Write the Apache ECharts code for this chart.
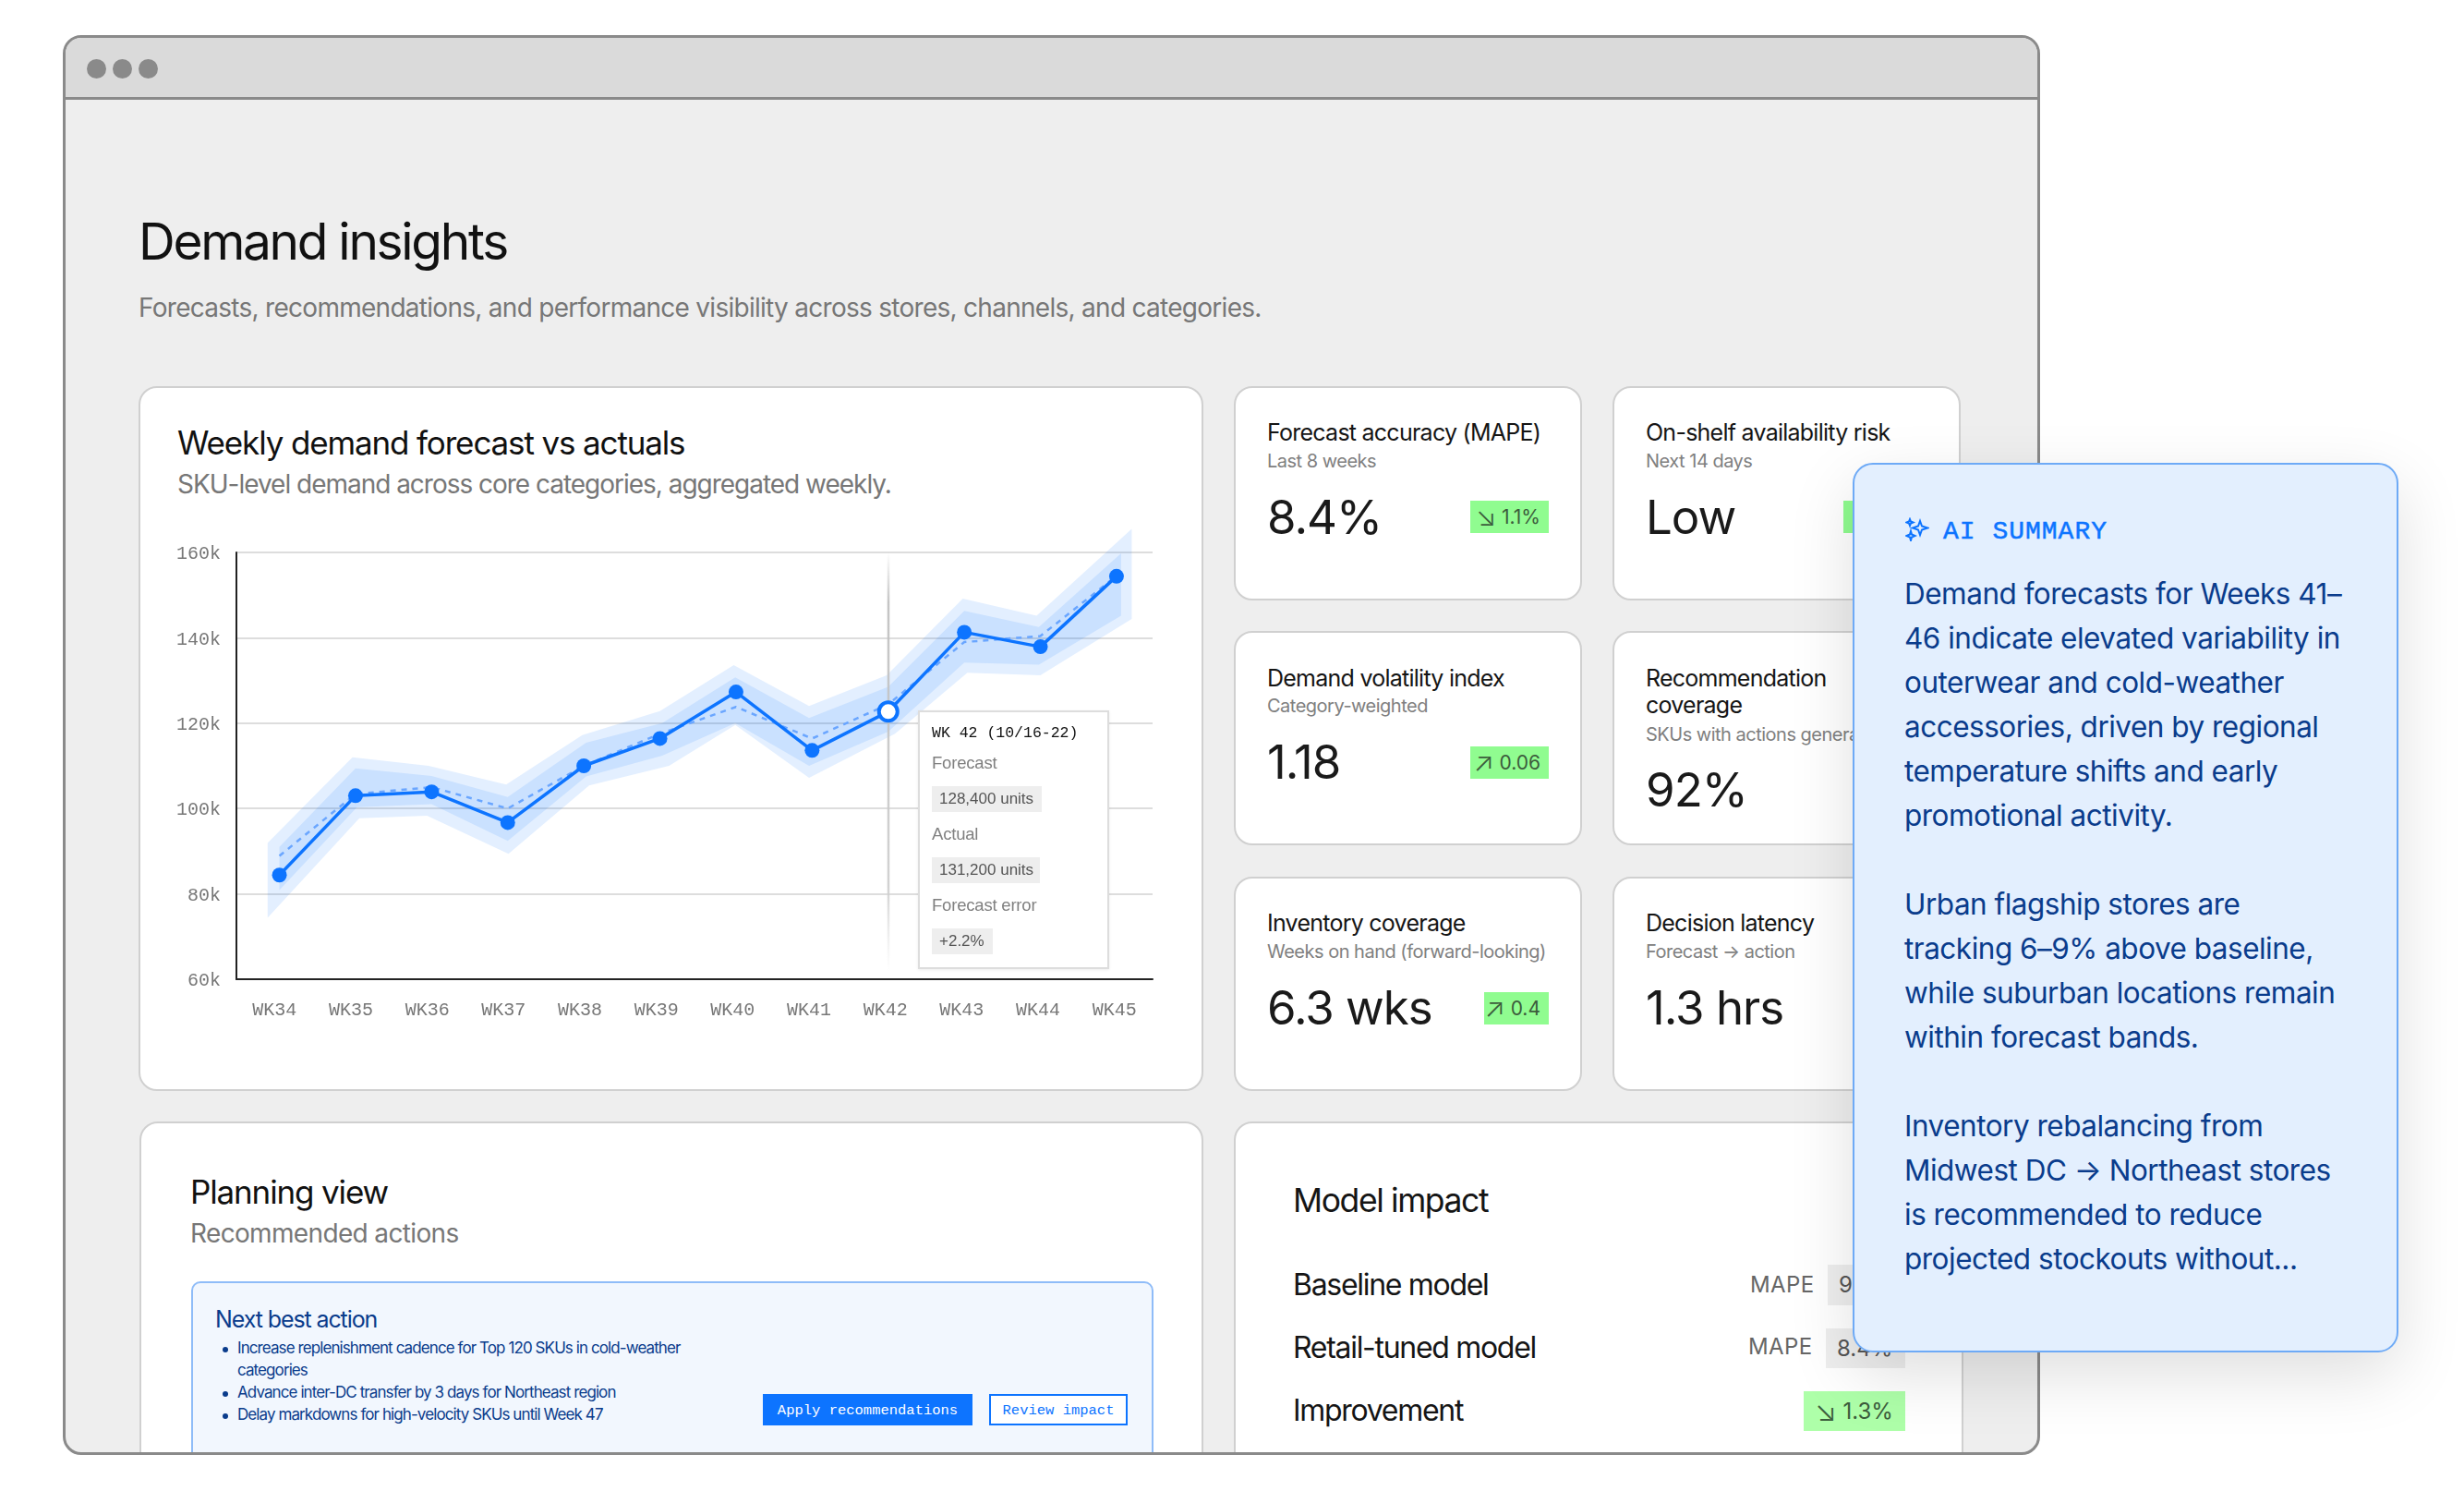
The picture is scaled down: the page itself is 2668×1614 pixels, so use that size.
<!DOCTYPE html>
<html>
<head>
<meta charset="UTF-8">
<title>Demand insights</title>
<script src="https://cdn.jsdelivr.net/npm/echarts@6/dist/echarts.min.js"></script>
<style>
  html, body { margin: 0; padding: 0; background: #fff; }
  body { position: relative; width: 2668px; height: 1614px; overflow: hidden; font-family: Inter, "Liberation Sans", sans-serif; -webkit-font-smoothing: antialiased; }
  /* top of .t / .m is the text baseline */
  .t { position: absolute; line-height: 1; white-space: nowrap; transform: translateY(-0.864em); }
  .m { position: absolute; line-height: 1; white-space: nowrap; transform: translateY(-0.767em); font-family: "Liberation Mono", monospace; }
  .box { position: absolute; box-sizing: border-box; }
  .card { background: #fff; border: 2.5px solid #d0d0d0; border-radius: 20px; }
  .kt { font-size: 25px; letter-spacing: -0.75px; color: #151515; }
  .ks { font-size: 20px; letter-spacing: -0.5px; color: #808080; }
  .kv { font-size: 51px; letter-spacing: -1px; color: #1a1a1a; }
  .badge { position: absolute; box-sizing: border-box; background: #90fc90; color: #3c5c3c; font-size: 21px; height: 35px; line-height: 35px; text-align: right; padding-right: 9px; white-space: nowrap; }
  .ar { font-size: 29px; font-weight: 300; line-height: 1; vertical-align: -2px; letter-spacing: 0; }
  .sum { font-size: 31.5px; letter-spacing: -0.5px; color: #0a3c8c; left: 2062px; }
  .row { font-size: 32px; letter-spacing: -1.3px; color: #151515; left: 1400px; }
  .mape { font-size: 24px; letter-spacing: 0.4px; color: #666; }
  .pill { position: absolute; box-sizing: border-box; background: #eee; color: #555; font-size: 24px; white-space: nowrap; }
  .act { font-size: 17px; letter-spacing: -0.91px; color: #0a3c8c; left: 257px; }
  .dot { position: absolute; width: 21px; height: 21px; top: 64px; border-radius: 50%; background: #8a8a8a; }
  .tip-l { left: 13px; font-size: 18.5px; letter-spacing: -0.2px; color: #808080; }
  .tip-p { position: absolute; left: 13px; height: 28px; line-height: 28px; padding-left: 8px; background: #eee; color: #555; font-size: 17px; box-sizing: border-box; }
</style>
</head>
<body>
  <!-- browser window -->
  <div class="box" style="left:68px;top:38px;width:2141px;height:1537px;background:#eee;border:3px solid #8a8a8a;border-radius:20px;overflow:hidden;">
    <div style="height:64px;background:#dadada;border-bottom:3px solid #8a8a8a;"></div>
  </div>
  <div class="dot" style="left:94px;"></div>
  <div class="dot" style="left:122px;"></div>
  <div class="dot" style="left:150px;"></div>

  <div class="t" style="left:150px;top:282px;font-size:55px;letter-spacing:-2.3px;color:#111;">Demand insights</div>
  <div class="t" style="left:150px;top:343px;font-size:28px;letter-spacing:-0.72px;color:#777;">Forecasts, recommendations, and performance visibility across stores, channels, and categories.</div>

  <!-- clipped area of the lower cards -->
  <div class="box" style="left:71px;top:41px;width:2135px;height:1531px;overflow:hidden;">
    <div class="box card" style="left:80px;top:1173px;width:1152px;height:500px;"></div>
    <div class="box card" style="left:1265px;top:1173px;width:790px;height:500px;"></div>
    <div class="box" style="left:136px;top:1346px;width:1042px;height:300px;background:#f2f7fe;border:2px solid #8fbcf8;border-radius:10px;"></div>
  </div>

  <!-- chart card -->
  <div class="box card" style="left:150px;top:418px;width:1153px;height:763px;"></div>
  <div class="t" style="left:192px;top:492px;font-size:35px;letter-spacing:-1.14px;color:#111;">Weekly demand forecast vs actuals</div>
  <div class="t" style="left:192px;top:534px;font-size:28px;letter-spacing:-1.02px;color:#777;">SKU-level demand across core categories, aggregated weekly.</div>
  <div id="main" style="position:absolute;left:152px;top:540px;width:1148px;height:630px;"></div>

  <!-- KPI cards -->
  <div class="box card" style="left:1336px;top:418px;width:377px;height:232px;"></div>
  <div class="t kt" style="left:1372px;top:478px;">Forecast accuracy (MAPE)</div>
  <div class="t ks" style="left:1372px;top:506px;">Last 8 weeks</div>
  <div class="t kv" style="left:1372px;top:578px;">8.4%</div>
  <div class="badge" style="left:1592px;top:542px;width:85px;"><span class="ar">↘</span> 1.1%</div>

  <div class="box card" style="left:1746px;top:418px;width:377px;height:232px;"></div>
  <div class="t kt" style="left:1782px;top:478px;">On-shelf availability risk</div>
  <div class="t ks" style="left:1782px;top:506px;">Next 14 days</div>
  <div class="t kv" style="left:1782px;top:578px;">Low</div>
  <div class="badge" style="left:1996px;top:542px;width:85px;"></div>

  <div class="box card" style="left:1336px;top:683px;width:377px;height:232px;"></div>
  <div class="t kt" style="left:1372px;top:744px;">Demand volatility index</div>
  <div class="t ks" style="left:1372px;top:771px;">Category-weighted</div>
  <div class="t kv" style="left:1372px;top:843px;">1.18</div>
  <div class="badge" style="left:1592px;top:808px;width:85px;"><span class="ar">↗</span> 0.06</div>

  <div class="box card" style="left:1746px;top:683px;width:377px;height:232px;"></div>
  <div class="t kt" style="left:1782px;top:744px;">Recommendation</div>
  <div class="t kt" style="left:1782px;top:773px;">coverage</div>
  <div class="t ks" style="left:1782px;top:802px;">SKUs with actions generated</div>
  <div class="t kv" style="left:1782px;top:873px;">92%</div>

  <div class="box card" style="left:1336px;top:949px;width:377px;height:232px;"></div>
  <div class="t kt" style="left:1372px;top:1009px;">Inventory coverage</div>
  <div class="t ks" style="left:1372px;top:1037px;">Weeks on hand (forward-looking)</div>
  <div class="t kv" style="left:1372px;top:1109px;">6.3 wks</div>
  <div class="badge" style="left:1607px;top:1074px;width:70px;"><span class="ar">↗</span> 0.4</div>

  <div class="box card" style="left:1746px;top:949px;width:377px;height:232px;"></div>
  <div class="t kt" style="left:1782px;top:1009px;">Decision latency</div>
  <div class="t ks" style="left:1782px;top:1037px;">Forecast → action</div>
  <div class="t kv" style="left:1782px;top:1109px;">1.3 hrs</div>

  <!-- planning view -->
  <div class="t" style="left:206px;top:1303px;font-size:35px;letter-spacing:-1.14px;color:#111;">Planning view</div>
  <div class="t" style="left:206px;top:1345px;font-size:28px;letter-spacing:-0.65px;color:#777;">Recommended actions</div>
  <div class="t" style="left:233px;top:1438px;font-size:25px;letter-spacing:-1.1px;color:#0a3c8c;">Next best action</div>
  <div class="box" style="left:241px;top:1458px;width:6px;height:6px;border-radius:50%;background:#0a3c8c;"></div>
  <div class="t act" style="top:1466px;">Increase replenishment cadence for Top 120 SKUs in cold-weather</div>
  <div class="t act" style="top:1490px;">categories</div>
  <div class="box" style="left:241px;top:1506px;width:6px;height:6px;border-radius:50%;background:#0a3c8c;"></div>
  <div class="t act" style="top:1514px;">Advance inter-DC transfer by 3 days for Northeast region</div>
  <div class="box" style="left:241px;top:1530px;width:6px;height:6px;border-radius:50%;background:#0a3c8c;"></div>
  <div class="t act" style="top:1538px;">Delay markdowns for high-velocity SKUs until Week 47</div>
  <div class="box" style="left:826px;top:1509px;width:227px;height:34px;background:#0d74ff;color:#fff;font:15.5px/36px 'Liberation Mono',monospace;text-align:center;">Apply recommendations</div>
  <div class="box" style="left:1071px;top:1509px;width:150px;height:34px;border:2px solid #0d74ff;color:#0d74ff;background:#fff;font:15.5px/32px 'Liberation Mono',monospace;text-align:center;">Review impact</div>

  <!-- model impact -->
  <div class="t row" style="top:1313px;font-size:35.5px;letter-spacing:-1.4px;">Model impact</div>
  <div class="t row" style="top:1403px;">Baseline model</div>
  <div class="t mape" style="left:1895px;top:1400px;">MAPE</div>
  <div class="pill" style="left:1979px;top:1369px;width:84px;height:44px;line-height:44px;padding-left:12px;">9.7%</div>
  <div class="t row" style="top:1471px;">Retail-tuned model</div>
  <div class="t mape" style="left:1893px;top:1467px;">MAPE</div>
  <div class="pill" style="left:1977px;top:1438px;width:86px;height:43px;line-height:43px;padding-left:12px;">8.4%</div>
  <div class="t row" style="top:1539px;">Improvement</div>
  <div class="pill" style="left:1953px;top:1506px;width:110px;height:43px;line-height:43px;padding-left:12px;background:#aeffa9;color:#3c5c3c;"><span class="ar" style="font-size:31px;">↘</span> 1.3%</div>

  <!-- AI summary panel -->
  <div class="box" style="left:2006px;top:501px;width:591px;height:963px;background:#e3effe;border:2.5px solid #6eaaf6;border-radius:22px;box-shadow:0 24px 70px rgba(0,0,0,0.13);"></div>
  <svg class="box" style="left:2063px;top:560px;" width="26" height="26" viewBox="0 0 26 26" fill="none" stroke="#0d74ff" stroke-width="2">
    <path d="M16 4 L18 9.5 L24 11.5 L18 13.5 L16 19 L14 13.5 L8 11.5 L14 9.5 Z"/>
    <path d="M6 15 L7 18.5 L10.5 20 L7 21.5 L6 25 L5 21.5 L1.5 20 L5 18.5 Z"/>
    <path d="M5 2 L6 4.5 L8.5 5.5 L6 6.5 L5 9 L4 6.5 L1.5 5.5 L4 4.5 Z"/>
  </svg>
  <div class="m" style="left:2104px;top:583px;font-size:28px;letter-spacing:1px;color:#0d74ff;-webkit-text-stroke:0.5px #0d74ff;">AI SUMMARY</div>
  <div class="t sum" style="top:654px;">Demand forecasts for Weeks 41–</div>
  <div class="t sum" style="top:702px;">46 indicate elevated variability in</div>
  <div class="t sum" style="top:750px;">outerwear and cold-weather</div>
  <div class="t sum" style="top:798px;">accessories, driven by regional</div>
  <div class="t sum" style="top:846px;">temperature shifts and early</div>
  <div class="t sum" style="top:894px;">promotional activity.</div>
  <div class="t sum" style="top:990px;">Urban flagship stores are</div>
  <div class="t sum" style="top:1038px;">tracking 6–9% above baseline,</div>
  <div class="t sum" style="top:1086px;">while suburban locations remain</div>
  <div class="t sum" style="top:1134px;">within forecast bands.</div>
  <div class="t sum" style="top:1230px;">Inventory rebalancing from</div>
  <div class="t sum" style="top:1278px;">Midwest DC → Northeast stores</div>
  <div class="t sum" style="top:1326px;">is recommended to reduce</div>
  <div class="t sum" style="top:1374px;">projected stockouts without...</div>

  <script type="text/javascript">
    var weeks = ['WK34', 'WK35', 'WK36', 'WK37', 'WK38', 'WK39', 'WK40', 'WK41', 'WK42', 'WK43', 'WK44', 'WK45'];
    var yTicks = { min: 60, max: 160, step: 20 };
    // weekly demand, thousands of units
    var actual = [84.4, 103, 103.9, 96.7, 110, 116.4, 127.3, 113.6, 122.7, 141.3, 137.9, 154.4];
    var forecast = [88.9, 103.4, 105, 100, 110, 117.5, 123.8, 116.4, 124.4, 139, 140.4, 154.5];
    // forecast bands, [week position, thousands]
    var innerUpper = [[0, 91], [1, 109.4], [2, 107.6], [3, 102.7], [4.03, 115.4], [5.03, 120], [5.99, 130.7], [6.96, 121.2], [8, 128.5], [9, 146.3], [9.98, 142.5], [11.06, 159.8]];
    var innerLower = [[0, 80.9], [1.02, 100.3], [2, 101], [3, 92.4], [4.03, 107.5], [5.03, 112.4], [5.99, 120], [6.96, 110], [8, 118], [9, 134.2], [9.98, 133.7], [11.06, 145.2]];
    var outerUpper = [[-0.155, 91.9], [0.96, 112], [1.96, 110], [2.98, 105.6], [3.98, 117.2], [5, 122.8], [5.97, 133.6], [6.96, 124], [7.98, 131.2], [8.98, 149.2], [9.95, 145.2], [11.2, 165.5]];
    var outerLower = [[-0.155, 74.4], [1.05, 97.7], [1.94, 98.3], [3.01, 89.4], [4.07, 105.4], [5.12, 110], [5.99, 119.6], [6.96, 107.2], [8.09, 117.5], [9.04, 131.8], [10, 131.2], [11.2, 144.4]];
    var activeWeek = 8;
    var tipTitle = 'WK 42 (10/16-22)';
    var tipForecast = '128,400 units';
    var tipActual = '131,200 units';
    var tipError = '+2.2%';

    var blue = '#0d74ff';
    var chart = echarts.init(document.getElementById('main'));

    function band(upper, lower) {
      return function (params, api) {
        var points = upper.concat(lower.slice().reverse()).map(function (p) { return api.coord(p); });
        return { type: 'polygon', shape: { points: points }, style: { fill: 'rgba(13,116,255,0.115)' } };
      };
    }

    function pairs(values) {
      return values.map(function (v, i) { return [i, v]; });
    }

    var tipHtml =
      '<div class="m" style="left:13px;top:28px;font-size:16.5px;color:#111;">' + tipTitle + '</div>' +
      '<div class="t tip-l" style="top:62px;">Forecast</div>' +
      '<div class="tip-p" style="top:80px;width:119px;">' + tipForecast + '</div>' +
      '<div class="t tip-l" style="top:139px;">Actual</div>' +
      '<div class="tip-p" style="top:157px;width:117px;">' + tipActual + '</div>' +
      '<div class="t tip-l" style="top:216px;">Forecast error</div>' +
      '<div class="tip-p" style="top:234px;width:66px;">' + tipError + '</div>';

    var option = {
      animation: false,
      grid: { left: 104, top: 58, width: 992, height: 462, containLabel: false },
      tooltip: {
        trigger: 'item',
        alwaysShowContent: true,
        transitionDuration: 0,
        position: [842, 229],
        padding: 0,
        borderWidth: 2,
        borderColor: '#ddd',
        backgroundColor: '#fff',
        extraCssText: 'width:207px;height:280px;box-sizing:border-box;border-radius:0;box-shadow:0 1px 3px rgba(0,0,0,0.08);',
        formatter: function () { return tipHtml; }
      },
      xAxis: [
        {
          type: 'category',
          data: weeks,
          axisLine: { lineStyle: { color: '#222', width: 2 } },
          axisTick: { show: false },
          axisLabel: { interval: 0, margin: 24, color: '#777', fontSize: 20, fontFamily: 'Liberation Mono' }
        },
        // the marks sit a little right of the label centres in the source, hence the shifted range
        { type: 'value', show: false, min: -0.565, max: 11.474 }
      ],
      yAxis: {
        type: 'value',
        min: yTicks.min,
        max: yTicks.max,
        interval: yTicks.step,
        axisLine: { show: true, onZero: false, lineStyle: { color: '#222', width: 2 } },
        axisTick: { show: false },
        splitLine: { lineStyle: { color: '#ddd', width: 2 } },
        axisLabel: { formatter: '{value}k', margin: 17, color: '#777', fontSize: 20, fontFamily: 'Liberation Mono', verticalAlign: 'top', padding: [-8, 0, 0, 0] }
      },
      series: [
        { type: 'custom', xAxisIndex: 1, silent: true, z: 2, renderItem: band(outerUpper, outerLower), data: [[0, 100]], tooltip: { show: false } },
        { type: 'custom', xAxisIndex: 1, silent: true, z: 3, renderItem: band(innerUpper, innerLower), data: [[0, 100]], tooltip: { show: false } },
        {
          // hover guide at the active week, fades out at both ends
          type: 'custom', xAxisIndex: 1, silent: true, z: 4, data: [[activeWeek, yTicks.max]], tooltip: { show: false },
          renderItem: function (params, api) {
            var a = api.coord([activeWeek, yTicks.max]);
            var b = api.coord([activeWeek, yTicks.min]);
            return {
              type: 'rect',
              shape: { x: a[0] - 1, y: a[1], width: 2.5, height: b[1] - a[1] - 8 },
              style: {
                fill: new echarts.graphic.LinearGradient(0, 0, 0, 1, [
                  { offset: 0, color: 'rgba(190,190,190,0)' },
                  { offset: 0.12, color: 'rgba(190,190,190,0.9)' },
                  { offset: 0.8, color: 'rgba(205,205,205,0.9)' },
                  { offset: 1, color: 'rgba(220,220,220,0)' }
                ])
              }
            };
          }
        },
        {
          name: 'Forecast', type: 'line', xAxisIndex: 1, z: 5, silent: true, symbol: 'none', clip: false,
          lineStyle: { color: '#6aa6ff', width: 2.5, type: [6, 6] },
          data: pairs(forecast),
          tooltip: { show: false }
        },
        {
          name: 'Actual', type: 'line', xAxisIndex: 1, z: 6, clip: false,
          symbol: 'circle', symbolSize: 16,
          lineStyle: { color: blue, width: 3.5 },
          itemStyle: { color: blue },
          emphasis: { disabled: true },
          data: actual.map(function (v, i) {
            if (i !== activeWeek) return [i, v];
            return { value: [i, v], symbolSize: 20, itemStyle: { color: '#fff', borderColor: blue, borderWidth: 4 } };
          })
        }
      ]
    };

    chart.setOption(option);
    chart.dispatchAction({ type: 'showTip', seriesIndex: 4, dataIndex: activeWeek });
  </script>
</body>
</html>
